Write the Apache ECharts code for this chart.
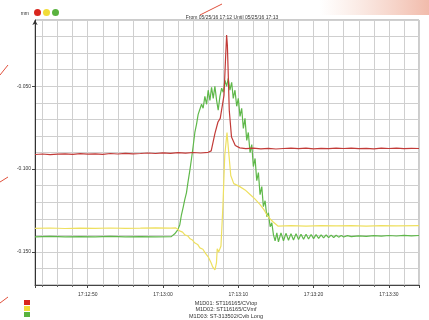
<!DOCTYPE html>
<html>
<head>
<meta charset="utf-8">
<script src="https://cdn.jsdelivr.net/npm/echarts@6/dist/echarts.min.js"></script>
<style>
html, body { margin: 0; background: #fff; }
#chart { width: 429px; height: 320px; }
</style>
</head>
<body>
<div id="chart"></div>
<script>
// seconds after 17:12:00, value in mm
const seriesNames = ['M1D01: ST116165/CVtop', 'M1D02: ST116165/CVmf', 'M1D03: ST-313502/Cvib Long'];
const lineColors = ['#c23b38', '#eee060', '#5fb84a'];
const dotColors = ['#d9261e', '#f1dc38', '#59b23e'];
const titleText = 'From 05/25/16 17:12 Until 05/25/16 17:13';
const unitName = 'mm';

const vtop = [
	[43, -0.0912], [44, -0.0909], [45, -0.0913], [46, -0.0910], [47, -0.0908], [48, -0.0911], [49, -0.0907],
	[50, -0.0910], [51, -0.0908], [52, -0.0911], [53, -0.0906], [54, -0.0909], [55, -0.0905], [56, -0.0908],
	[57, -0.0906], [58, -0.0903], [59, -0.0906], [60, -0.0902], [61, -0.0905], [62, -0.0901], [63, -0.0904],
	[64, -0.0900], [65, -0.0903], [66, -0.0899],
	[66.4, -0.0890], [66.9, -0.0785], [67.3, -0.0716], [67.6, -0.0694], [67.8, -0.0682], [68.1, -0.0555],
	[68.3, -0.0342], [68.45, -0.0191], [68.55, -0.0252], [68.65, -0.0403], [68.8, -0.0645], [69.1, -0.0807],
	[69.6, -0.0858], [70.2, -0.0872],
	[71, -0.0877], [72, -0.0874], [73, -0.0878], [74, -0.0875], [75, -0.0879], [76, -0.0876], [77, -0.0873],
	[78, -0.0877], [79, -0.0874], [80, -0.0878], [81, -0.0875], [82, -0.0877], [83, -0.0874], [84, -0.0876],
	[85, -0.0873], [86, -0.0877], [87, -0.0875], [88, -0.0878], [89, -0.0874], [90, -0.0876], [91, -0.0873],
	[92, -0.0877], [93, -0.0875], [94, -0.0876]
];

const vmf = [
	[43, -0.1358], [45, -0.1356], [47, -0.1359], [49, -0.1357], [51, -0.1358], [53, -0.1356], [55, -0.1358],
	[57, -0.1357], [59, -0.1355], [61, -0.1357], [61.7, -0.1355],
	[62.2, -0.1373], [62.6, -0.1381], [62.9, -0.1397], [63.3, -0.1404], [63.6, -0.1421], [63.9, -0.1428],
	[64.2, -0.1445], [64.6, -0.1455], [64.9, -0.1476], [65.3, -0.1484], [65.6, -0.1506], [66.0, -0.1530],
	[66.4, -0.1567], [66.6, -0.1591], [66.9, -0.1609],
	[67.1, -0.1567], [67.2, -0.1482], [67.4, -0.1500], [67.7, -0.1464], [67.96, -0.1221], [68.2, -0.0918],
	[68.5, -0.0779], [68.8, -0.0936], [69.0, -0.1039], [69.4, -0.1088], [70.2, -0.1106], [70.9, -0.1126],
	[71.6, -0.1155], [72.2, -0.1180], [72.9, -0.1215], [73.4, -0.1245], [73.8, -0.1276], [74.2, -0.1300],
	[74.6, -0.1318], [75.3, -0.1345],
	[77, -0.1342], [79, -0.1344], [81, -0.1341], [83, -0.1343], [85, -0.1342], [87, -0.1344], [89, -0.1341],
	[91, -0.1343], [94, -0.1342]
];

const cvib = [
	[43, -0.1409], [45, -0.1407], [47, -0.1410], [49, -0.1408], [51, -0.1409], [53, -0.1406], [55, -0.1409],
	[57, -0.1408], [59, -0.1410], [61.1, -0.1408],
	[61.56, -0.1391], [61.96, -0.1367], [62.23, -0.1336], [62.45, -0.1276], [62.67, -0.1233], [62.89, -0.1185],
	[63.12, -0.1142], [63.33, -0.1076], [63.56, -0.1009], [63.79, -0.0936], [64.0, -0.0864], [64.23, -0.0779],
	[64.45, -0.0730], [64.67, -0.0670], [64.89, -0.0658], [65.12, -0.0609], [65.33, -0.0633], [65.56, -0.0561],
	[65.79, -0.0609], [66.0, -0.0524], [66.23, -0.0585], [66.45, -0.0506], [66.67, -0.0573], [66.89, -0.0500],
	[67.12, -0.0585], [67.33, -0.0645], [67.56, -0.0561], [67.79, -0.0512], [68.0, -0.0536], [68.23, -0.0464],
	[68.45, -0.0500], [68.67, -0.0452], [68.89, -0.0524], [69.12, -0.0476], [69.33, -0.0573], [69.56, -0.0524],
	[69.79, -0.0621], [70.0, -0.0573], [70.23, -0.0682], [70.45, -0.0633], [70.67, -0.0755], [70.89, -0.0694],
	[71.12, -0.0827], [71.33, -0.0779], [71.56, -0.0900], [71.79, -0.0852], [72.0, -0.0985], [72.23, -0.0936],
	[72.45, -0.1070], [72.67, -0.1021], [72.89, -0.1155], [73.12, -0.1106], [73.33, -0.1227], [73.56, -0.1191],
	[73.79, -0.1288], [74.0, -0.1264], [74.23, -0.1348], [74.45, -0.1324], [74.67, -0.1397], [74.89, -0.1433],
	[75.12, -0.1385], [75.33, -0.1439], [75.67, -0.1385], [76.0, -0.1433], [76.33, -0.1388], [76.67, -0.1430],
	[77.0, -0.1390], [77.33, -0.1428], [77.67, -0.1391], [78.0, -0.1426], [78.33, -0.1393], [78.67, -0.1424],
	[79.0, -0.1394], [79.33, -0.1422], [79.67, -0.1395], [80.0, -0.1420], [80.33, -0.1396], [80.67, -0.1418],
	[81.0, -0.1397], [81.33, -0.1416], [81.67, -0.1398], [82.0, -0.1414], [82.33, -0.1399], [82.67, -0.1413],
	[83.0, -0.1400], [83.33, -0.1411], [83.67, -0.1401], [84.0, -0.1410], [84.5, -0.1402], [85, -0.1408],
	[86, -0.1403], [87, -0.1406], [88, -0.1402], [89, -0.1405], [90, -0.1401], [91, -0.1404], [92, -0.1400],
	[93, -0.1403], [94, -0.1401]
];

const seriesData = [vtop, vmf, cvib];

function clockLabel(sec) {
	const m = 12 + Math.floor(sec / 60);
	const s = Math.round(sec % 60);
	return '17:' + m + ':' + (s < 10 ? '0' + s : s);
}

const chart = echarts.init(document.getElementById('chart'), null, { renderer: 'canvas' });

chart.setOption({
	animation: false,
	backgroundColor: '#fff',
	textStyle: { fontFamily: 'Liberation Sans, Arial, sans-serif' },
	title: [
		{
			text: titleText,
			left: 227,
			top: 10,
			textAlign: 'center',
			textStyle: { fontSize: 5, fontWeight: 'normal', color: '#333' }
		},
		{
			text: seriesNames.join('\n'),
			left: 226,
			top: 300,
			textAlign: 'center',
			padding: 0,
			textStyle: { fontSize: 5.5, lineHeight: 6.6, fontWeight: 'normal', color: '#333' }
		}
	],
	legend: [
		{
			left: 34,
			top: 9,
			icon: 'circle',
			itemWidth: 7,
			itemHeight: 7,
			itemGap: -3,
			padding: 0,
			formatter: () => '',
			textStyle: { fontSize: 4, lineHeight: 4 },
			data: seriesNames.map((n, i) => ({ name: n, itemStyle: { color: dotColors[i] } }))
		},
		{
			left: 24,
			top: 300,
			orient: 'vertical',
			icon: 'rect',
			itemWidth: 6,
			itemHeight: 5,
			itemGap: 1,
			padding: 0,
			formatter: () => '',
			textStyle: { fontSize: 4, lineHeight: 4 },
			data: seriesNames.map((n, i) => ({ name: n, itemStyle: { color: dotColors[i] } }))
		}
	],
	grid: {
		left: 35,
		right: 10,
		top: 20,
		bottom: 35,
		show: true,
		borderColor: '#999',
		borderWidth: 1
	},
	xAxis: {
		type: 'value',
		min: 43,
		max: 94,
		splitNumber: 5,
		axisLine: { lineStyle: { color: '#444', width: 1 } },
		axisTick: { show: true, length: 3, lineStyle: { color: '#444' } },
		minorTick: { show: true, splitNumber: 5, length: 2, lineStyle: { color: '#666' } },
		splitLine: { show: true, lineStyle: { color: '#cfcfcf' } },
		minorSplitLine: { show: true, lineStyle: { color: '#cfcfcf' } },
		axisLabel: {
			showMinLabel: false,
			showMaxLabel: false,
			fontSize: 5,
			color: '#333',
			margin: 7,
			formatter: (v) => clockLabel(v)
		}
	},
	yAxis: {
		type: 'value',
		min: -0.17,
		max: -0.01,
		splitNumber: 3,
		name: unitName,
		nameGap: 4,
		nameTextStyle: { fontSize: 5, color: '#333', align: 'right', padding: [0, 6, 0, 0] },
		axisLine: { show: true, symbol: ['none', 'arrow'], symbolSize: [4, 5], lineStyle: { color: '#333', width: 1 } },
		axisTick: { show: true, length: 3, lineStyle: { color: '#444' } },
		minorTick: { show: false },
		splitLine: { show: true, lineStyle: { color: '#cfcfcf' } },
		minorSplitLine: { show: true, lineStyle: { color: '#cfcfcf' } },
		axisLabel: {
			showMinLabel: false,
			showMaxLabel: false,
			fontSize: 5,
			color: '#333',
			margin: 4,
			formatter: (v) => v.toFixed(3)
		}
	},
	graphic: [
		{
			type: 'rect',
			shape: { x: 320, y: 0, width: 109, height: 15 },
			style: {
				fill: new echarts.graphic.LinearGradient(0, 0, 1, 0, [
					{ offset: 0, color: 'rgba(240,190,170,0)' },
					{ offset: 1, color: 'rgba(238,170,150,0.8)' }
				])
			},
			silent: true
		},
		{ type: 'line', shape: { x1: 200, y1: 15, x2: 222, y2: 4 }, style: { stroke: '#e0503c', lineWidth: 1 }, silent: true },
		{ type: 'line', shape: { x1: 0, y1: 75, x2: 8, y2: 65 }, style: { stroke: '#e0503c', lineWidth: 1 }, silent: true },
		{ type: 'line', shape: { x1: 0, y1: 182, x2: 8, y2: 177 }, style: { stroke: '#e0503c', lineWidth: 1 }, silent: true },
		{ type: 'line', shape: { x1: 0, y1: 303, x2: 8, y2: 297 }, style: { stroke: '#e0503c', lineWidth: 1 }, silent: true }
	],
	series: seriesNames.map((name, i) => ({
		name: name,
		type: 'line',
		data: seriesData[i],
		symbol: 'none',
		z: 3 - i,
		itemStyle: { color: lineColors[i] },
		lineStyle: { color: lineColors[i], width: 1.2 }
	}))
});
</script>
</body>
</html>
